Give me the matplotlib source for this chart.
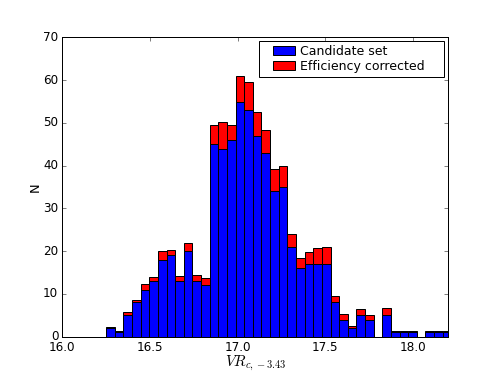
import numpy as np
import matplotlib
matplotlib.use("Agg")
import matplotlib.pyplot as plt
from matplotlib.patches import Rectangle
from matplotlib.transforms import IdentityTransform

# Data (counts per bin)
bin_start = 16.25
bin_width = 0.0492
candidate = [2, 1, 5, 8, 11, 13, 18, 19, 13, 20,
             13, 12, 45, 44, 46, 55, 53, 47, 43, 34,
             35, 21, 16, 17, 17, 17, 8, 4, 2, 5,
             4, 0, 5, 1, 1, 1, 0, 1, 1, 1]
corrected = [2.2, 1.3, 5.8, 8.6, 12.4, 14.0, 20.0, 20.3, 14.1, 21.9,
             14.5, 13.7, 49.5, 50.1, 49.4, 60.9, 59.6, 52.5, 48.3, 39.3,
             39.9, 24.0, 18.5, 19.9, 20.7, 20.9, 9.5, 5.3, 2.5, 6.5,
             5.0, 0.0, 6.7, 1.2, 1.4, 1.4, 0.0, 1.4, 1.3, 1.3]
labels = ["Candidate set", "Efficiency corrected"]
xticks = [16.0, 16.5, 17.0, 17.5, 18.0]
yticks = [0, 10, 20, 30, 40, 50, 60, 70]

plt.style.use("classic")
plt.rcParams["mathtext.fontset"] = "cm"

W, H = 498, 374
dpi = 72
fig = plt.figure(figsize=(W / dpi, H / dpi), dpi=dpi, facecolor="white")
ax = fig.add_axes([0.125, 0.1, 0.775, 0.8])

lefts = bin_start + bin_width * np.arange(len(candidate))
ax.bar(lefts, corrected, width=bin_width, align="edge", color="#ff0000",
       edgecolor="black", linewidth=1.0, label=labels[1], zorder=2)
ax.bar(lefts, candidate, width=bin_width, align="edge", color="#0000ff",
       edgecolor="black", linewidth=1.0, label=labels[0], zorder=3)

ax.set_xlim(16.0, 18.2)
ax.set_ylim(0, 70)
ax.set_xticks(xticks)
ax.set_xticklabels(["%.1f" % t for t in xticks])
ax.set_yticks(yticks)
ax.tick_params(labelsize=12, direction="in", top=True, right=True, length=4)
ax.set_xlabel(r"$VR_{c,-3.43}$", fontsize=15, labelpad=0)
ax.set_ylabel("N", fontsize=13, labelpad=1)

# legend: content placed without frame, frame drawn around it with the
# wider horizontal padding of the reference
pad_left, pad_right = 10, 16
ident = IdentityTransform()
fig.canvas.draw()
axbb = ax.get_window_extent()
h, l = ax.get_legend_handles_labels()
leg = ax.legend(h[::-1], l[::-1], loc="upper right", fontsize=12.5,
                frameon=False, labelspacing=0.15, borderaxespad=0.0,
                borderpad=0.3, handlelength=1.8, handletextpad=0.35,
                bbox_to_anchor=(axbb.x1 - 4 - pad_right, axbb.y1 - 4),
                bbox_transform=ident)
leg.set_zorder(6)
fig.canvas.draw()
bb = leg.get_window_extent()
frame = Rectangle((bb.x0 - pad_left, bb.y0), bb.width + pad_left + pad_right,
                  bb.height, transform=ident, facecolor="white",
                  edgecolor="black", linewidth=1.0, zorder=5, clip_on=False)
ax.add_artist(frame)
frame.set_clip_on(False)

fig.savefig("out.png", dpi=dpi, facecolor="white")
